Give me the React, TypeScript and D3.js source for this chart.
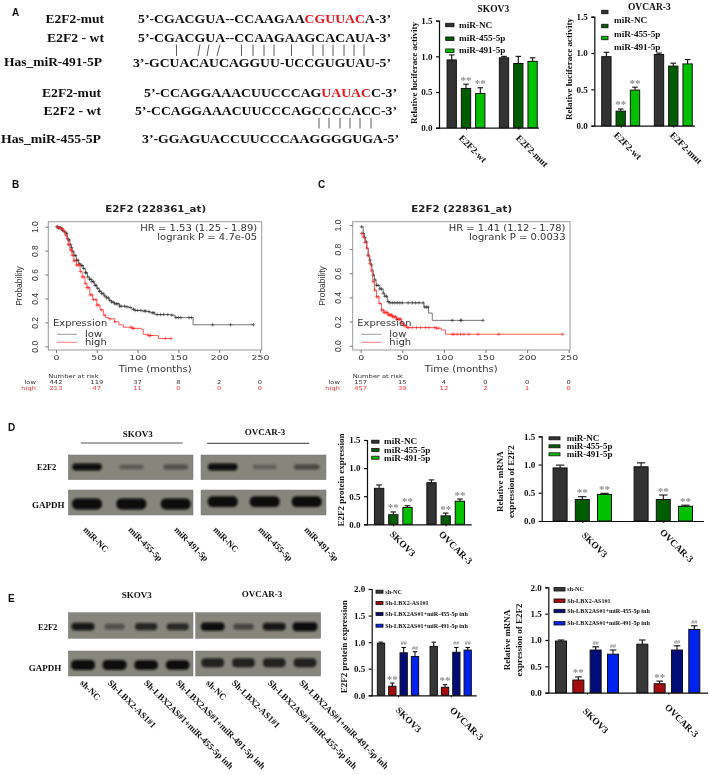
import React, { useEffect, useRef } from 'react';
import * as d3 from 'd3';

const SERIF = '"Liberation Serif", serif';
const SANS = '"DejaVu Sans", sans-serif';

// bar chart values
const miRSeries = ['miR-NC', 'miR-455-5p', 'miR-491-5p'];
const shSeries = ['sh-NC', 'Sh-LBX2-AS1#1', 'Sh-LBX2AS#1+miR-455-5p inh', 'Sh-LBX2AS#1+miR-491-5p inh'];
const miRColors = ['#333333', '#065c06', '#06c006'];
const shColors = ['#383838', '#a50d0d', '#050a78', '#0524ee'];

const lucGroups = ['E2F2-wt', 'E2F2-mut'];
const cellGroups = ['SKOV3', 'OVCAR-3'];

const a1Values = [[0.95, 0.55, 0.48], [0.98, 0.9, 0.93]];
const a1Errors = [[1.02, 0.61, 0.56], [1.0, 1.0, 0.98]];
const a1Marks = [['', '**', '**'], ['', '', '']];
const a2Values = [[0.95, 0.2, 0.49], [0.98, 0.82, 0.85]];
const a2Errors = [[1.01, 0.23, 0.53], [1.0, 0.86, 0.91]];
const a2Marks = [['', '**', '**'], ['', '', '']];
const d1Values = [[0.64, 0.17, 0.3], [0.74, 0.15, 0.41]];
const d1Errors = [[0.7, 0.22, 0.33], [0.79, 0.2, 0.45]];
const d1Marks = [['', '**', '**'], ['', '**', '**']];
const d2Values = [[0.94, 0.38, 0.47], [0.96, 0.38, 0.26]];
const d2Errors = [[0.99, 0.43, 0.49], [1.03, 0.46, 0.28]];
const d2Marks = [['', '**', '**'], ['', '**', '**']];
const e1Values = [[0.98, 0.17, 0.8, 0.73], [0.92, 0.15, 0.81, 0.85]];
const e1Errors = [[1.0, 0.23, 0.9, 0.82], [1.0, 0.2, 0.9, 0.9]];
const e1Marks = [['', '**', '##', '##'], ['', '**', '##', '##']];
const e2Values = [[0.98, 0.24, 0.81, 0.73], [0.92, 0.17, 0.81, 1.2]];
const e2Errors = [[1.0, 0.3, 0.87, 0.81], [1.0, 0.22, 0.89, 1.27]];
const e2Marks = [['', '**', '##', '##'], ['', '**', '##', '##']];

// survival curves: [months, probability]
const bLow = [[0, 1], [3, 0.99], [7, 0.97], [10, 0.955], [12, 0.945], [14, 0.91], [15, 0.89], [17, 0.85], [18.5, 0.825], [20, 0.79], [22, 0.76], [25, 0.72], [27.5, 0.69], [30, 0.675], [33.5, 0.65], [36, 0.615], [38.5, 0.58], [41, 0.56], [44, 0.54], [47, 0.51], [50, 0.485], [53, 0.46], [56, 0.44], [59, 0.42], [62, 0.405], [65, 0.385], [68, 0.37], [72, 0.355], [78, 0.335], [85, 0.33], [89, 0.325], [93, 0.31], [97, 0.3], [105, 0.295], [111, 0.29], [115, 0.28], [121, 0.265], [135, 0.265], [142, 0.26], [146, 0.24], [167.6, 0.24], [168, 0.18], [242, 0.18]];
const bHigh = [[0, 1], [4, 0.985], [9, 0.96], [11, 0.93], [13, 0.9], [15, 0.85], [17, 0.805], [19.5, 0.76], [22, 0.715], [25, 0.68], [29.5, 0.625], [32, 0.58], [35.5, 0.525], [38, 0.49], [41.5, 0.43], [45, 0.39], [50, 0.345], [54, 0.305], [58, 0.26], [61, 0.24], [64, 0.23], [72, 0.205], [77, 0.18], [82.5, 0.16], [93, 0.15], [105, 0.14], [107, 0.1], [113, 0.09], [123.5, 0.09], [125.5, 0.065], [142, 0.065]];
const bLowCensor = [1, 2, 3, 5, 6, 8, 9, 11, 13, 15, 16, 18, 19, 21, 22, 24, 25, 27, 29, 31, 32, 34, 36, 37, 39, 41, 43, 44, 46, 48, 49, 51, 53, 54, 56, 58, 60, 62, 64, 66, 68, 70, 72, 74, 76, 78, 80, 84, 87, 91, 95, 97, 100, 104, 108, 110, 114, 118, 120, 124, 128, 132, 137, 142, 147, 150, 153, 163, 166, 192, 214, 242];
const bHighCensor = [2, 4, 6, 8, 10, 12, 14, 15, 16, 18, 19, 20, 22, 23, 25, 27, 28, 30, 32, 34, 36, 38, 40, 42, 44, 46, 49, 50, 52, 56, 60, 66, 72, 92, 94, 95, 113, 115, 116, 134, 141];
const cLow = [[0, 0.985], [3, 0.93], [4.5, 0.895], [6, 0.86], [7.5, 0.805], [9, 0.75], [10.5, 0.71], [12, 0.67], [13.5, 0.63], [15, 0.585], [16.5, 0.545], [18.5, 0.5], [23, 0.47], [27, 0.435], [29, 0.41], [32, 0.365], [35, 0.355], [73, 0.355], [76, 0.32], [81.5, 0.27], [86, 0.21], [147, 0.21]];
const cHigh = [[0, 0.93], [3, 0.9], [5, 0.855], [7, 0.81], [9, 0.745], [11, 0.68], [12.5, 0.62], [14.5, 0.53], [16.5, 0.46], [19, 0.405], [22, 0.35], [25, 0.295], [28, 0.275], [33, 0.255], [38, 0.24], [43, 0.22], [49, 0.185], [52, 0.165], [55, 0.15], [91, 0.145], [97, 0.13], [102, 0.095], [243, 0.095]];
const cLowCensor = [1, 3, 5, 7, 9, 11, 13, 15, 17, 19, 21, 23, 25, 27, 29, 31, 33, 35, 38, 41, 44, 47, 50, 57, 62, 66, 70, 75, 77, 79, 81, 110, 120, 121, 147];
const cHighCensor = [1, 3, 5, 7, 9, 11, 13, 15, 17, 19, 21, 23, 25, 27, 28, 29, 30, 31, 32, 33, 34, 35, 36, 37, 38, 39, 40, 41, 42, 43, 44, 45, 46, 47, 48, 49, 50, 52, 54, 56, 58, 62, 67, 72, 78, 82, 89, 91, 93, 110, 112, 116, 120, 124, 130, 141, 166, 243];
const riskTimes = [0, 50, 100, 150, 200, 250];
const bRiskLow = [442, 119, 37, 8, 2, 0];
const bRiskHigh = [213, 47, 11, 0, 0, 0];
const cRiskLow = [157, 15, 4, 0, 0, 0];
const cRiskHigh = [457, 39, 12, 2, 1, 0];

// western blot band strength per lane
const dE2f2Bands = [[0.95, 0.35, 0.42], [0.95, 0.3, 0.5]];
const dGapdhBands = [[1, 1, 1], [1, 1, 1]];
const eE2f2Bands = [[0.85, 0.42, 0.75, 0.72], [0.95, 0.5, 0.85, 1.15]];
const eGapdhBands = [[1, 1, 0.95, 0.95], [0.8, 0.8, 0.8, 0.8]];
const dLanes = ['miR-NC', 'miR-455-5p', 'miR-491-5p'];
const eLanes = ['sh-NC', 'Sh-LBX2-AS1#1', 'Sh-LBX2AS#1+miR-455-5p inh', 'Sh-LBX2AS#1+miR-491-5p inh'];

// sequences of panel A
const seqRows = [
  { label: "E2F2-mut", a: "5’-CGACGUA--CCAAGAA", red: "CGUUAC", b: "A-3’", l0: 45.5, l1: 104, x0: 138, x1: 391, y: 23.3 },
  { label: "E2F2 - wt", a: "5’-CGACGUA--CCAAGAAGCACAUA-3’", red: "", b: "", l0: 47, l1: 104, x0: 138, x1: 391, y: 42.3 },
  { label: "Has_miR-491-5P", a: "3’-GCUACAUCAGGUU-UCCGUGUAU-5’", red: "", b: "", l0: 4, l1: 102, x0: 133, x1: 391, y: 66.7 },
  { label: "E2F2-mut", a: "5’-CCAGGAAACUUCCCAG", red: "UAUAC", b: "C-3’", l0: 42, l1: 101, x0: 144, x1: 397, y: 97.3 },
  { label: "E2F2 - wt", a: "5’-CCAGGAAACUUCCCAGCCCCACC-3’", red: "", b: "", l0: 43.5, l1: 101, x0: 135, x1: 397, y: 115 },
  { label: "Has_miR-455-5P", a: "3’-GGAGUACCUUCCCAAGGGGUGA-5’", red: "", b: "", l0: 1, l1: 101, x0: 142, x1: 399, y: 142.7 },
];
const pairs491 = [[176.5, 176.5], [200, 198], [209, 207], [220, 217], [241.5, 241.5], [253, 253], [264, 264], [274, 274], [291.5, 291.5], [313, 313], [323, 323], [333, 333], [344, 344], [354, 354], [364, 364]];
const pairs455 = [319, 329, 340, 350, 360, 371];

const blue = (s: any, size: number) => s.attr('font-family', SERIF).attr('font-weight', 'bold').attr('font-size', size).attr('fill', '#111');

function drawBars(root: any, p: any) {
  const y = d3.scaleLinear().domain([0, p.max]).range([p.y0, p.yTop]);
  const gx = d3.scalePoint().domain(p.groups).range(p.centers);
  const n = p.series.length;
  const bx = d3.scalePoint().domain(d3.range(n).map(String)).range([-p.step * (n - 1) / 2, p.step * (n - 1) / 2]);
  const g = root.append('g');

  const ya = g.append('g').attr('transform', `translate(${p.axisX},0)`)
    .call(d3.axisLeft(y).tickValues(d3.range(0, p.max + 0.01, 0.5)).tickFormat(d3.format('.1f')).tickSize(3));
  ya.selectAll('path,line').attr('stroke', '#111').attr('stroke-width', 1.2);
  blue(ya.selectAll('text'), 9).attr('dx', -0.5);
  const xa = g.append('g').attr('transform', `translate(0,${p.y0})`)
    .call(d3.axisBottom(gx).tickSize(2).tickFormat(() => '').tickSizeOuter(0));
  xa.select('path').attr('d', `M${p.axisX},0.5H${p.xEnd}`).attr('stroke', '#111').attr('stroke-width', 1.2);
  xa.selectAll('line').attr('stroke', '#111').attr('stroke-width', 1);

  p.values.forEach((vals: number[], gi: number) => {
    vals.forEach((v, si) => {
      const cx = (gx(p.groups[gi]) as number) + (bx(String(si)) as number);
      const top = y(p.errors[gi][si]);
      g.append('line').attr('x1', cx).attr('x2', cx).attr('y1', top).attr('y2', y(v)).attr('stroke', '#111').attr('stroke-width', 1.1);
      g.append('line').attr('x1', cx - p.w * 0.3).attr('x2', cx + p.w * 0.3).attr('y1', top).attr('y2', top).attr('stroke', '#111').attr('stroke-width', 1.1);
      g.append('rect').attr('x', cx - p.w / 2).attr('width', p.w).attr('y', y(v)).attr('height', p.y0 - y(v))
        .attr('fill', p.colors[si]).attr('stroke', '#111').attr('stroke-width', 1);
      const m = p.marks[gi][si];
      if (m) {
        g.append('text').attr('x', cx).attr('y', top - (m === '**' ? 0.5 : 2)).attr('text-anchor', 'middle')
          .attr('font-family', SERIF).attr('font-weight', 'bold').attr('font-size', m === '**' ? 11 : 6).attr('fill', '#8f8f8f').text(m);
      }
    });
    const lb = p.groupLabels[gi];
    blue(g.append('text'), 9.5).attr('transform', `translate(${lb[0] + 4},${lb[1]}) rotate(45)`).attr('dy', '0.7em').text(p.groups[gi]);
  });

  if (p.title) blue(g.append('text'), 9.5).attr('x', p.title[1]).attr('y', p.title[2]).attr('text-anchor', 'middle').text(p.title[0]);

  p.yLabels.forEach((l: any) => {
    blue(g.append('text'), 9).attr('transform', `translate(${l[1]},${l[2]}) rotate(-90)`).attr('text-anchor', 'middle').text(l[0]);
  });

  p.series.forEach((s: string, i: number) => {
    g.append('rect').attr('x', p.legend.x0).attr('width', p.legend.x1 - p.legend.x0).attr('y', p.legend.ys[i] - p.legend.h / 2).attr('height', p.legend.h)
      .attr('fill', p.colors[i]).attr('stroke', '#111').attr('stroke-width', 0.8);
    const ty = p.legend.tys ? p.legend.tys[i] : p.legend.ys[i] + p.legend.size * 0.3;
    const sx = p.legend.sx ?? 1;
    blue(g.append('text'), p.legend.size).attr('transform', `translate(${p.legend.tx},${ty}) scale(${sx},1)`).text(s);
  });
}

function drawKm(root: any, p: any) {
  const x = d3.scaleLinear().domain([0, 250]).range(p.xRange);
  const y = d3.scaleLinear().domain([0, 1]).range(p.yRange);
  const g = root.append('g').attr('font-family', SANS);
  // the reference is stretched sideways, so its labels are too
  const label = (tx: number, ty: number, s: any, size: number, anchor = 'start', fill = '#333', sx = 1.25) =>
    g.append('text').attr('transform', `translate(${tx},${ty}) scale(${sx},1)`).attr('text-anchor', anchor).attr('font-size', size).attr('fill', fill).text(s);

  g.append('rect').attr('x', p.box[0]).attr('y', p.box[1]).attr('width', p.box[2] - p.box[0]).attr('height', p.box[3] - p.box[1])
    .attr('fill', 'none').attr('stroke', '#999').attr('stroke-width', 1);

  const xa = g.append('g').attr('transform', `translate(0,${p.box[3]})`).call(d3.axisBottom(x).tickValues(riskTimes).tickSize(3).tickSizeOuter(0));
  xa.select('path').remove();
  xa.selectAll('line').attr('stroke', '#777');
  xa.selectAll('text').attr('font-family', SANS).attr('font-size', 7.5).attr('fill', '#333').attr('y', 5).attr('transform', 'scale(1.25,1)');
  const ya = g.append('g').attr('transform', `translate(${p.box[0]},0)`).call(d3.axisLeft(y).tickValues([0, 0.2, 0.4, 0.6, 0.8, 1]).tickFormat(d3.format('.1f')).tickSize(3).tickSizeOuter(0));
  ya.select('path').remove();
  ya.selectAll('line').attr('stroke', '#777');
  ya.selectAll('text').attr('font-family', '"Liberation Sans", sans-serif').attr('font-size', 8.5).attr('fill', '#333')
    .attr('text-anchor', 'middle').attr('dy', 0).attr('x', 0)
    .attr('transform', `translate(${p.tickX - p.box[0]},0) rotate(-90)`);

  const line = d3.line().x((d: any) => x(d[0])).y((d: any) => y(d[1])).curve(d3.curveStepAfter);
  const series = [
    { pts: p.low, cens: p.lowCensor, col: '#555' },
    { pts: p.high, cens: p.highCensor, col: '#f33' },
  ];
  const bis = d3.bisector((d: any) => d[0]).right;
  series.forEach((s) => {
    g.append('path').attr('d', line(s.pts)).attr('fill', 'none').attr('stroke', s.col).attr('stroke-width', 0.8);
    s.cens.forEach((t: number) => {
      const v = s.pts[Math.max(0, bis(s.pts, t) - 1)][1];
      const cx = x(t), cy = y(v);
      g.append('path').attr('d', `M${cx - 1.8},${cy}H${cx + 1.8}M${cx},${cy - 1.8}V${cy + 1.8}`).attr('stroke', s.col === '#555' ? '#222' : '#f22').attr('stroke-width', 0.55).attr('fill', 'none');
    });
  });

  label(p.titleX, 212.3, 'E2F2 (228361_at)', 8.2, 'middle', '#222').attr('font-weight', 'bold');
  label(p.box[2] - 4.5, 231, p.hr, 8, 'end');
  label(p.box[2] - 4.5, 240, p.logrank, 8, 'end');
  label(p.titleX - 0.5, 372.3, 'Time (months)', 8, 'middle');
  g.append('text').attr('transform', `translate(${p.probX},286) rotate(-90)`).attr('text-anchor', 'middle').attr('font-family', '"Liberation Sans", sans-serif').attr('font-size', 8.5).attr('fill', '#333').text('Probability');

  label(p.legX, 326, 'Expression', 8);
  g.append('line').attr('x1', p.legX + 4).attr('x2', p.legX + 24).attr('y1', 334.3).attr('y2', 334.3).attr('stroke', '#777').attr('stroke-width', 0.7);
  g.append('line').attr('x1', p.legX + 4).attr('x2', p.legX + 24).attr('y1', 342.3).attr('y2', 342.3).attr('stroke', '#f44').attr('stroke-width', 0.7);
  label(p.legX + 32, 337, 'low', 8);
  label(p.legX + 32, 345, 'high', 8);

  label(p.box[0], 378.3, 'Number at risk', 5.4);
  label(p.riskLabelX, 384.3, 'low', 5.4, 'end');
  label(p.riskLabelX, 390, 'high', 5.4, 'end', '#f33');
  riskTimes.forEach((t, i) => {
    label(x(t), 384.3, p.riskLow[i], 5.4, 'middle');
    label(x(t), 390, p.riskHigh[i], 5.4, 'middle', '#f33');
  });
}

function drawBlot(root: any, p: any) {
  const g = root.append('g');
  p.panels.forEach((pn: any, pi: number) => {
    const lane = d3.scalePoint().domain(d3.range(pn.lanes.length).map(String)).range(pn.range);
    p.rows.forEach((r: any) => {
      g.append('rect').attr('x', pn.x0).attr('width', pn.x1 - pn.x0).attr('y', r.y0).attr('height', r.y1 - r.y0).attr('fill', '#86867c').attr('stroke', '#777').attr('stroke-width', 0.5);
      r.bands[pi].forEach((v: number, i: number) => {
        const cx = lane(String(i)) as number;
        const hw = p.bandW * (0.7 + 0.3 * Math.min(v, 1.1));
        const hh = r.bandH * (0.45 + 0.55 * v);
        g.append('rect').attr('x', cx - hw).attr('width', hw * 2).attr('y', r.cy[pi] - hh).attr('height', hh * 2).attr('rx', hh * 0.9).attr('ry', hh * 0.9)
          .attr('fill', '#0c0c0c').attr('opacity', Math.min(1, v * 1.05)).attr('filter', 'url(#band)');
      });
    });
  });
  p.texts.forEach((t: any) => {
    blue(g.append('text'), t[3]).attr('x', t[1]).attr('y', t[2]).attr('text-anchor', 'middle').text(t[0]);
  });
  p.laneLabels.forEach((l: any) => {
    blue(g.append('text'), p.laneSize).attr('transform', `translate(${l[1] + 4},${l[2]}) rotate(45)`).attr('dy', '0.7em').text(l[0]);
  });
}

export default function App() {
  const ref = useRef<SVGSVGElement>(null);

  useEffect(() => {
    if (!ref.current) return;
    const svg = d3.select(ref.current);
    svg.selectAll('*').remove();
    const defs = svg.append('defs');
    defs.append('filter').attr('id', 'band').attr('x', '-30%').attr('y', '-60%').attr('width', '160%').attr('height', '220%')
      .append('feGaussianBlur').attr('stdDeviation', 1);
    defs.append('filter').attr('id', 'soft').attr('x', '-2%').attr('y', '-2%').attr('width', '104%').attr('height', '104%')
      .append('feGaussianBlur').attr('stdDeviation', 0.35);
    const root = svg.append('g').attr('filter', 'url(#soft)');

    // panel letters
    [['A', 12, 16], ['B', 12, 188], ['C', 318, 188], ['D', 8, 431], ['E', 8, 602]].forEach((l: any) => {
      root.append('text').attr('x', l[1]).attr('y', l[2]).attr('font-family', '"Liberation Sans", sans-serif').attr('font-weight', 'bold').attr('font-size', 10).attr('fill', '#111').text(l[0]);
    });

    // panel A sequences
    seqRows.forEach((r) => {
      blue(root.append('text'), 11.5).attr('x', r.l0).attr('y', r.y - (r.y > 60 && r.y < 70 ? 1 : 0))
        .attr('textLength', r.l1 - r.l0).attr('lengthAdjust', 'spacingAndGlyphs').text(r.label);
      const t = blue(root.append('text'), 11.5).attr('x', r.x0).attr('y', r.y)
        .attr('textLength', r.x1 - r.x0).attr('lengthAdjust', 'spacingAndGlyphs');
      t.append('tspan').text(r.a);
      if (r.red) {
        t.append('tspan').attr('fill', '#e8141c').text(r.red);
        t.append('tspan').text(r.b);
      }
    });
    pairs491.forEach((p) => {
      root.append('line').attr('x1', p[0]).attr('x2', p[1]).attr('y1', 44.5).attr('y2', 56).attr('stroke', '#333').attr('stroke-width', 0.8);
    });
    pairs455.forEach((p) => {
      root.append('line').attr('x1', p).attr('x2', p).attr('y1', 118).attr('y2', 128.5).attr('stroke', '#333').attr('stroke-width', 0.8);
    });

    drawBars(root, {
      groups: lucGroups, series: miRSeries, colors: miRColors, values: a1Values, errors: a1Errors, marks: a1Marks,
      max: 1.5, y0: 127.7, yTop: 20.7, axisX: 439, xEnd: 539, centers: [466, 518.3], step: 14.3, w: 9.3,
      groupLabels: [[459, 134], [516, 134]], title: ['SKOV3', 493.3, 11.7],
      yLabels: [['Relative luciferace activity', 417, 73]],
      legend: { x0: 445.7, x1: 454, ys: [25, 38.7, 50.7], h: 3.5, tx: 459, size: 9.2 },
    });
    drawBars(root, {
      groups: lucGroups, series: miRSeries, colors: miRColors, values: a2Values, errors: a2Errors, marks: a2Marks,
      max: 1.5, y0: 125.7, yTop: 16.7, axisX: 594.3, xEnd: 695, centers: [620.7, 673.3], step: 14.3, w: 9.3,
      groupLabels: [[614, 131], [670, 131]], title: ['OVCAR-3', 649.3, 10],
      yLabels: [['Relative luciferace activity', 572, 69]],
      legend: { x0: 601.7, x1: 608, ys: [12, 26, 38], tys: [23, 37, 50], h: 3.5, tx: 614, size: 9.2 },
    });

    drawKm(root, {
      low: bLow, high: bHigh, lowCensor: bLowCensor, highCensor: bHighCensor, riskLow: bRiskLow, riskHigh: bRiskHigh,
      xRange: [56, 260], yRange: [346.3, 226.7], box: [48.3, 221.7, 261.7, 350], tickX: 38, titleX: 155.7, probX: 22,
      hr: 'HR = 1.53 (1.25 - 1.89)', logrank: 'logrank P = 4.7e-05', legX: 53, riskLabelX: 36,
    });
    drawKm(root, {
      low: cLow, high: cHigh, lowCensor: cLowCensor, highCensor: cHighCensor, riskLow: cRiskLow, riskHigh: cRiskHigh,
      xRange: [360.7, 568.7], yRange: [345.7, 225], box: [352.7, 221.7, 570, 350], tickX: 341, titleX: 461.7, probX: 325,
      hr: 'HR = 1.41 (1.12 - 1.78)', logrank: 'logrank P = 0.0033', legX: 357.3, riskLabelX: 340,
    });

    drawBlot(root, {
      bandW: 15,
      panels: [
        { x0: 68.3, x1: 193, lanes: dLanes, range: [87, 175.7] },
        { x0: 201, x1: 326, lanes: dLanes, range: [222.7, 306.7] },
      ],
      rows: [
        { y0: 455, y1: 479.7, cy: [467, 467], bands: dE2f2Bands, bandH: 3.6 },
        { y0: 490, y1: 515, cy: [504, 501.7], bands: dGapdhBands, bandH: 5.4 },
      ],
      texts: [['SKOV3', 137.7, 436.7, 9], ['OVCAR-3', 265, 435, 9], ['E2F2', 46.7, 470, 8.5], ['GAPDH', 48.3, 508, 9]],
      laneLabels: [
        [dLanes[0], 83, 526], [dLanes[1], 128, 526], [dLanes[2], 174, 526],
        [dLanes[0], 213, 526], [dLanes[1], 258, 526], [dLanes[2], 304, 526],
      ],
      laneSize: 8.8,
    });
    root.append('line').attr('x1', 80.7).attr('x2', 182.7).attr('y1', 443).attr('y2', 443).attr('stroke', '#555').attr('stroke-width', 1);
    root.append('line').attr('x1', 207).attr('x2', 309.3).attr('y1', 443.3).attr('y2', 443.3).attr('stroke', '#333').attr('stroke-width', 1);

    drawBars(root, {
      groups: cellGroups, series: miRSeries, colors: miRColors, values: d1Values, errors: d1Errors, marks: d1Marks,
      max: 1.5, y0: 524.3, yTop: 440, axisX: 367, xEnd: 471.7, centers: [393.3, 445.7], step: 14.2, w: 9.3,
      groupLabels: [[390, 530], [439, 530]],
      yLabels: [['E2F2 protein expression', 344, 480]],
      legend: { x0: 371.7, x1: 379, ys: [441.7, 450, 457.7], tys: [444, 452.6, 461], h: 3, tx: 384, size: 7.3, sx: 1.26 },
    });
    drawBars(root, {
      groups: cellGroups, series: miRSeries, colors: miRColors, values: d2Values, errors: d2Errors, marks: d2Marks,
      max: 1.5, y0: 521, yTop: 436.3, axisX: 541.7, xEnd: 704, centers: [582.3, 663.3], step: 22.2, w: 14,
      groupLabels: [[582, 531], [660, 528]],
      yLabels: [['Relative mRNA', 503, 481.7], ['expression of E2F2', 514, 481.7]],
      legend: { x0: 549, x1: 560, ys: [438.3, 446.3, 454.3], tys: [440.5, 449, 457.4], h: 3, tx: 566.7, size: 7.3, sx: 1.24 },
    });

    drawBlot(root, {
      bandW: 12,
      panels: [
        { x0: 68.3, x1: 193, lanes: eLanes, range: [83, 177.7] },
        { x0: 195.7, x1: 320.7, lanes: eLanes, range: [212.7, 305] },
      ],
      rows: [
        { y0: 612.7, y1: 638.3, cy: [626.7, 626.7], bands: eE2f2Bands, bandH: 4.2 },
        { y0: 651, y1: 676, cy: [665, 662.7], bands: eGapdhBands, bandH: 5 },
      ],
      texts: [['SKOV3', 136.7, 598.3, 9], ['OVCAR-3', 262, 597.3, 9], ['E2F2', 47.7, 630, 8.5], ['GAPDH', 45, 671, 9]],
      laneLabels: [
        [eLanes[0], 80, 679], [eLanes[1], 107.7, 679], [eLanes[2], 144, 679], [eLanes[3], 176, 679],
        [eLanes[0], 206, 679], [eLanes[1], 231.7, 679], [eLanes[2], 267.7, 679], [eLanes[3], 299.3, 679],
      ],
      laneSize: 9,
    });

    drawBars(root, {
      groups: cellGroups, series: shSeries, colors: shColors, values: e1Values, errors: e1Errors, marks: e1Marks,
      max: 2, y0: 695.3, yTop: 589, axisX: 371.7, xEnd: 476.7, centers: [398, 450.7], step: 11.33, w: 7.3,
      groupLabels: [[396, 706], [450, 706]],
      yLabels: [['E2F2 protein expression', 347, 646.7]],
      legend: { x0: 376, x1: 383, ys: [591.7, 603, 614, 625.7], h: 3, tx: 385.3, size: 6.1 },
    });
    drawBars(root, {
      groups: cellGroups, series: shSeries, colors: shColors, values: e2Values, errors: e2Errors, marks: e2Marks,
      max: 2, y0: 692.7, yTop: 587.3, axisX: 548.3, xEnd: 708, centers: [587, 668.3], step: 17.33, w: 11,
      groupLabels: [[583, 707], [665, 703]],
      yLabels: [['Relative mRNA', 510, 640], ['expression of E2F2', 522, 640]],
      legend: { x0: 554, x1: 565, ys: [589.3, 600.7, 611, 623.3], h: 3.4, tx: 567.3, size: 6.1 },
    });
  }, []);

  return <svg ref={ref} width={709} height={775} style={{ position: 'absolute', left: 0, top: 0, background: '#fff' }} />;
}
